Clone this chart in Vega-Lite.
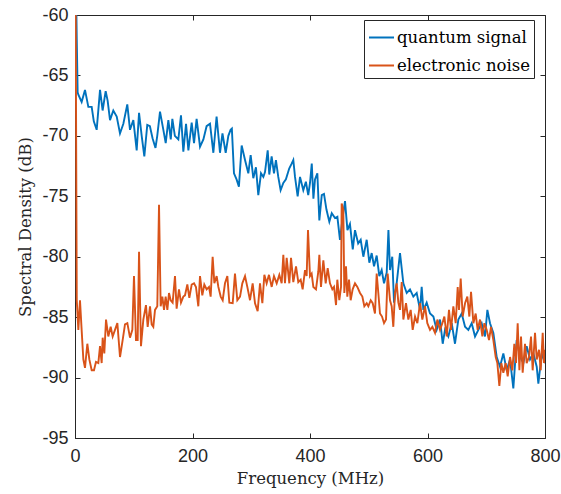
{
"$schema": "https://vega.github.io/schema/vega-lite/v6.json",
"autosize": "none",
"width": 470,
"height": 423,
"padding": {"left": 75, "top": 15, "right": 16, "bottom": 56},
"background": "white",
"config": {
  "view": {"stroke": "#262626", "strokeWidth": 1},
  "axis": {"grid": false, "domainColor": "#262626", "tickColor": "#262626", "labelColor": "#262626", "titleColor": "#262626", "labelFont": "Liberation Sans", "labelFontSize": 18, "titleFont": "DejaVu Serif", "titleFontSize": 16.5, "titleFontWeight": "normal", "tickSize": -5}
},
"datasets": {
"quantum": [
{"f":0,"db":-52},{"f":3,"db":-62},{"f":4.5,"db":-66.4},{"f":5.7,"db":-66.6},{"f":11.3,"db":-67.2},{"f":17,"db":-66.2},{"f":22.7,"db":-67.6},{"f":28.4,"db":-67.6},{"f":32,"db":-68.8},{"f":36.9,"db":-69.5},{"f":42.6,"db":-66.2},{"f":47,"db":-67.9},{"f":52.2,"db":-66.3},{"f":55.6,"db":-67.1},{"f":59.6,"db":-68.7},{"f":65.2,"db":-67.9},{"f":71,"db":-68.4},{"f":76.6,"db":-69.8},{"f":82.3,"db":-69.0},{"f":89,"db":-67.4},{"f":93.6,"db":-69.5},{"f":99.3,"db":-68.7},{"f":105,"db":-71.2},{"f":109,"db":-68.1},{"f":113.5,"db":-70.0},{"f":118,"db":-71.7},{"f":123,"db":-69.1},{"f":127.5,"db":-69.2},{"f":132,"db":-70.2},{"f":137,"db":-71.0},{"f":140,"db":-70.0},{"f":144.7,"db":-68.0},{"f":150.4,"db":-69.5},{"f":154.4,"db":-70.6},{"f":158.9,"db":-68.7},{"f":163,"db":-70.3},{"f":165.7,"db":-68.6},{"f":170,"db":-70.0},{"f":175.9,"db":-70.3},{"f":180.4,"db":-68.3},{"f":184.4,"db":-71.3},{"f":189,"db":-69.0},{"f":193,"db":-71.2},{"f":198.6,"db":-68.9},{"f":202.6,"db":-70.6},{"f":207,"db":-68.6},{"f":212.8,"db":-70.9},{"f":218.5,"db":-70.3},{"f":224,"db":-69.2},{"f":229.8,"db":-69.0},{"f":235.5,"db":-71.4},{"f":241,"db":-68.4},{"f":246.8,"db":-71.4},{"f":251,"db":-69.8},{"f":256.5,"db":-71.4},{"f":261,"db":-70.0},{"f":264.8,"db":-69.5},{"f":267,"db":-69.4},{"f":270.6,"db":-73.1},{"f":275,"db":-73.6},{"f":279,"db":-74.2},{"f":283.7,"db":-70.8},{"f":289.4,"db":-72.0},{"f":295,"db":-73.1},{"f":299,"db":-71.6},{"f":303.5,"db":-73.5},{"f":308,"db":-72.6},{"f":312,"db":-74.9},{"f":316.6,"db":-73.1},{"f":320.6,"db":-73.4},{"f":323.4,"db":-73.0},{"f":328,"db":-71.2},{"f":330.7,"db":-73.2},{"f":334.7,"db":-71.7},{"f":338.7,"db":-73.1},{"f":342,"db":-72.0},{"f":346,"db":-73.4},{"f":350,"db":-74.5},{"f":354.6,"db":-73.9},{"f":359,"db":-73.6},{"f":364.6,"db":-72.7},{"f":368.8,"db":-72.3},{"f":371.6,"db":-72.0},{"f":374.5,"db":-73.4},{"f":379,"db":-75.0},{"f":383,"db":-73.4},{"f":388.6,"db":-74.5},{"f":393,"db":-73.8},{"f":397,"db":-74.9},{"f":400,"db":-73.9},{"f":403,"db":-72.3},{"f":405.8,"db":-75.2},{"f":408.5,"db":-73.6},{"f":412.5,"db":-73.1},{"f":415.9,"db":-77.0},{"f":420,"db":-74.9},{"f":423.8,"db":-74.8},{"f":428,"db":-76.1},{"f":432.9,"db":-77.1},{"f":437,"db":-76.4},{"f":442.6,"db":-76.8},{"f":446.6,"db":-76.7},{"f":451,"db":-78.6},{"f":455.7,"db":-76.7},{"f":459.6,"db":-75.4},{"f":463.7,"db":-77.8},{"f":468,"db":-77.3},{"f":472.8,"db":-79.4},{"f":476.6,"db":-77.8},{"f":482,"db":-78.9},{"f":486.3,"db":-78.6},{"f":490.8,"db":-80.0},{"f":496.5,"db":-78.6},{"f":501,"db":-80.5},{"f":505,"db":-79.7},{"f":509,"db":-80.8},{"f":513.5,"db":-79.9},{"f":518,"db":-81.6},{"f":522,"db":-81.1},{"f":526,"db":-82.2},{"f":530.6,"db":-81.3},{"f":533.5,"db":-77.8},{"f":536.2,"db":-81.1},{"f":540,"db":-80.0},{"f":543,"db":-83.8},{"f":547.5,"db":-82.2},{"f":553.2,"db":-79.7},{"f":558.9,"db":-82.2},{"f":564.6,"db":-83.0},{"f":570.2,"db":-82.7},{"f":575.9,"db":-83.3},{"f":581.6,"db":-83.0},{"f":587.3,"db":-84.4},{"f":590.1,"db":-82.5},{"f":592.9,"db":-84.4},{"f":598.6,"db":-83.8},{"f":604.3,"db":-84.7},{"f":610,"db":-84.95},{"f":615.6,"db":-86.05},{"f":621.3,"db":-85.2},{"f":625.9,"db":-87.2},{"f":629.8,"db":-86.05},{"f":635.5,"db":-86.6},{"f":641.2,"db":-85.5},{"f":646.8,"db":-87.2},{"f":652.5,"db":-85.2},{"f":658.2,"db":-84.7},{"f":663.9,"db":-85.8},{"f":669.5,"db":-86.05},{"f":675.2,"db":-85.5},{"f":680.9,"db":-86.6},{"f":686.6,"db":-86.05},{"f":692.2,"db":-85.5},{"f":697.9,"db":-86.6},{"f":701.9,"db":-84.4},{"f":706.4,"db":-85.5},{"f":712.1,"db":-86.3},{"f":717.8,"db":-88.3},{"f":723.4,"db":-89.1},{"f":729.1,"db":-88.0},{"f":734.8,"db":-89.4},{"f":740.5,"db":-88.5},{"f":746.1,"db":-90.9},{"f":751.8,"db":-86.9},{"f":757.5,"db":-88.3},{"f":763.2,"db":-88.8},{"f":768.8,"db":-87.4},{"f":774.5,"db":-88.5},{"f":780.2,"db":-88.0},{"f":785.9,"db":-89.1},{"f":788.7,"db":-90.5},{"f":794.4,"db":-88.0},{"f":800,"db":-88.8}
],
"noise": [
{"f":0,"db":-45},{"f":3,"db":-83.6},{"f":5.7,"db":-86.05},{"f":8.5,"db":-83.6},{"f":11.3,"db":-86.05},{"f":14.2,"db":-88.5},{"f":17,"db":-89.2},{"f":21,"db":-87.2},{"f":24.4,"db":-88.5},{"f":28.4,"db":-89.4},{"f":32.3,"db":-89.4},{"f":35.7,"db":-88.7},{"f":39.7,"db":-88.8},{"f":42.6,"db":-87.4},{"f":45.4,"db":-88.8},{"f":47.1,"db":-86.7},{"f":49.9,"db":-88.0},{"f":52.8,"db":-85.2},{"f":56.7,"db":-86.6},{"f":60.7,"db":-85.8},{"f":64.1,"db":-86.6},{"f":68.1,"db":-86.05},{"f":72.1,"db":-85.5},{"f":76.6,"db":-88.3},{"f":81.1,"db":-86.9},{"f":85.1,"db":-85.6},{"f":89.1,"db":-85.5},{"f":93.6,"db":-86.7},{"f":97.6,"db":-86.05},{"f":100.4,"db":-81.6},{"f":103.8,"db":-86.9},{"f":106.7,"db":-86.9},{"f":109,"db":-79.6},{"f":112.3,"db":-87.4},{"f":116.3,"db":-85.2},{"f":120.8,"db":-84.0},{"f":123.7,"db":-85.8},{"f":127.7,"db":-84.1},{"f":130.5,"db":-85.6},{"f":133.3,"db":-85.8},{"f":136.2,"db":-84.4},{"f":140.1,"db":-84.1},{"f":143,"db":-75.7},{"f":145.8,"db":-84.1},{"f":148.7,"db":-83.3},{"f":151.5,"db":-84.4},{"f":154.3,"db":-83.3},{"f":157.2,"db":-84.4},{"f":160,"db":-83.0},{"f":162.8,"db":-83.6},{"f":166.2,"db":-83.8},{"f":170.2,"db":-81.6},{"f":173,"db":-84.3},{"f":177,"db":-82.7},{"f":180.4,"db":-83.8},{"f":184.4,"db":-83.3},{"f":187.2,"db":-83.2},{"f":191.2,"db":-82.3},{"f":194.6,"db":-83.4},{"f":198.6,"db":-82.3},{"f":202.6,"db":-82.2},{"f":205.9,"db":-82.5},{"f":209.9,"db":-84.1},{"f":212.8,"db":-81.6},{"f":216.7,"db":-83.2},{"f":220.1,"db":-82.3},{"f":224.1,"db":-82.7},{"f":228.1,"db":-82.5},{"f":230.9,"db":-83.3},{"f":234.3,"db":-80.0},{"f":237.2,"db":-82.2},{"f":241.1,"db":-81.6},{"f":244,"db":-82.5},{"f":248,"db":-83.3},{"f":251.4,"db":-83.6},{"f":255.3,"db":-82.2},{"f":259.3,"db":-81.6},{"f":262.7,"db":-83.8},{"f":268.4,"db":-83.85},{"f":272.3,"db":-81.4},{"f":276.3,"db":-83.6},{"f":280.9,"db":-83.3},{"f":284.8,"db":-82.2},{"f":289.4,"db":-81.6},{"f":293.3,"db":-82.5},{"f":297.9,"db":-83.6},{"f":302.4,"db":-82.2},{"f":306.4,"db":-83.85},{"f":310.9,"db":-84.5},{"f":314.9,"db":-82.2},{"f":318.9,"db":-83.85},{"f":322.3,"db":-81.5},{"f":326.2,"db":-82.2},{"f":330.2,"db":-81.5},{"f":334.8,"db":-82.5},{"f":338.7,"db":-81.6},{"f":343.3,"db":-82.2},{"f":347.8,"db":-81.5},{"f":351.8,"db":-82.2},{"f":354.6,"db":-79.85},{"f":357.4,"db":-82.2},{"f":360.3,"db":-80.1},{"f":364.8,"db":-82.2},{"f":367.7,"db":-80.1},{"f":371.6,"db":-82.1},{"f":376.2,"db":-80.8},{"f":380.1,"db":-82.1},{"f":384.1,"db":-81.9},{"f":387.5,"db":-82.7},{"f":391.5,"db":-81.1},{"f":394.3,"db":-81.6},{"f":396.6,"db":-77.8},{"f":400,"db":-81.6},{"f":402.8,"db":-81.4},{"f":405.7,"db":-82.5},{"f":410.2,"db":-82.7},{"f":414.2,"db":-81.2},{"f":415.9,"db":-79.85},{"f":418.7,"db":-82.5},{"f":422.7,"db":-80.3},{"f":426.7,"db":-82.2},{"f":430.1,"db":-80.95},{"f":434,"db":-82.2},{"f":438,"db":-82.7},{"f":440.9,"db":-82.5},{"f":444.3,"db":-84.0},{"f":446.5,"db":-81.9},{"f":449.9,"db":-83.6},{"f":452.8,"db":-82.5},{"f":453.9,"db":-75.6},{"f":456.7,"db":-76.1},{"f":458.4,"db":-83.0},{"f":461.3,"db":-80.8},{"f":463.5,"db":-83.3},{"f":466.4,"db":-81.9},{"f":469.2,"db":-83.6},{"f":472.6,"db":-82.7},{"f":476.6,"db":-82.2},{"f":480.6,"db":-82.5},{"f":485.1,"db":-83.0},{"f":489.1,"db":-83.3},{"f":492.5,"db":-84.1},{"f":496.5,"db":-83.85},{"f":499.3,"db":-84.1},{"f":503.3,"db":-83.6},{"f":506.7,"db":-83.85},{"f":510.6,"db":-84.7},{"f":513.5,"db":-81.4},{"f":516.3,"db":-83.0},{"f":519.1,"db":-84.7},{"f":522.6,"db":-84.95},{"f":526,"db":-85.5},{"f":529.4,"db":-85.2},{"f":532.2,"db":-81.4},{"f":536.2,"db":-83.6},{"f":539,"db":-84.1},{"f":541.8,"db":-85.8},{"f":544.7,"db":-83.0},{"f":547.5,"db":-82.2},{"f":550.4,"db":-83.8},{"f":553.2,"db":-84.4},{"f":556.1,"db":-82.1},{"f":558.9,"db":-85.2},{"f":563.4,"db":-83.85},{"f":567.4,"db":-85.2},{"f":571.4,"db":-84.4},{"f":574.8,"db":-86.05},{"f":578.8,"db":-84.95},{"f":582.7,"db":-85.5},{"f":587.3,"db":-83.85},{"f":591.2,"db":-85.2},{"f":595.8,"db":-84.1},{"f":599.7,"db":-85.5},{"f":604.3,"db":-86.05},{"f":608.3,"db":-85.8},{"f":612.8,"db":-86.3},{"f":616.8,"db":-85.2},{"f":621.3,"db":-86.05},{"f":625.3,"db":-85.5},{"f":628.7,"db":-84.95},{"f":632.7,"db":-86.6},{"f":636.6,"db":-84.4},{"f":640.0,"db":-86.05},{"f":644.0,"db":-84.1},{"f":648.0,"db":-85.5},{"f":651.4,"db":-82.5},{"f":653.6,"db":-84.4},{"f":656.5,"db":-81.8},{"f":659.9,"db":-84.95},{"f":663.9,"db":-83.85},{"f":667.8,"db":-83.3},{"f":671.2,"db":-84.95},{"f":674.1,"db":-82.9},{"f":678.1,"db":-85.5},{"f":682.0,"db":-84.7},{"f":685.4,"db":-86.05},{"f":689.4,"db":-85.2},{"f":693.4,"db":-86.6},{"f":696.8,"db":-85.5},{"f":700.7,"db":-86.05},{"f":704.7,"db":-86.9},{"f":708.1,"db":-85.8},{"f":712.1,"db":-86.9},{"f":716.1,"db":-88.3},{"f":718.9,"db":-88.8},{"f":722.3,"db":-90.7},{"f":725.7,"db":-88.8},{"f":729.1,"db":-89.6},{"f":733.1,"db":-88.8},{"f":736.5,"db":-89.9},{"f":740.5,"db":-88.3},{"f":744.4,"db":-89.4},{"f":747.8,"db":-87.2},{"f":750.7,"db":-88.8},{"f":753.5,"db":-85.5},{"f":756.4,"db":-89.4},{"f":759.2,"db":-86.6},{"f":762.0,"db":-89.6},{"f":766.0,"db":-87.2},{"f":768.8,"db":-88.8},{"f":772.8,"db":-88.3},{"f":776.2,"db":-86.6},{"f":779.0,"db":-89.4},{"f":783.0,"db":-86.3},{"f":785.9,"db":-88.5},{"f":789.8,"db":-87.7},{"f":792.7,"db":-89.4},{"f":796.1,"db":-86.3},{"f":798.3,"db":-88.8},{"f":800,"db":-87.7}
]
},
"layer": [
  {
    "layer": [
      {
        "data": {"name": "quantum"},
        "mark": {"type": "line", "strokeWidth": 1.9, "clip": true, "interpolate": "linear"},
        "encoding": {
          "x": {"field": "f", "type": "quantitative", "scale": {"domain": [0, 800], "nice": false, "zero": false}, "axis": {"values": [0, 200, 400, 600, 800], "title": "Frequency (MHz)", "labelPadding": 14, "labelFlush": false, "titleY": 40, "titleBaseline": "middle"}},
          "y": {"field": "db", "type": "quantitative", "scale": {"domain": [-95, -60], "nice": false, "zero": false}, "axis": {"values": [-95, -90, -85, -80, -75, -70, -65, -60], "title": "Spectral Density (dB)", "labelPadding": 12, "labelExpr": "'' + datum.value", "labelFlush": false, "titleX": -50, "titleBaseline": "middle"}},
          "color": {"datum": "quantum signal", "type": "nominal", "scale": {"domain": ["quantum signal", "electronic noise"], "range": ["#0072BD", "#D95319"]}, "legend": {"title": null, "orient": "none", "legendX": 289, "legendY": 5, "strokeColor": "#262626", "fillColor": "white", "padding": 4, "symbolType": "stroke", "symbolSize": 625, "symbolStrokeWidth": 2, "labelFont": "DejaVu Serif", "labelFontSize": 16.5, "labelColor": "#000000", "labelOffset": 2, "rowPadding": 6, "cornerRadius": 0}}
        }
      },
      {
        "data": {"name": "noise"},
        "mark": {"type": "line", "strokeWidth": 1.9, "clip": true, "interpolate": "linear"},
        "encoding": {
          "x": {"field": "f", "type": "quantitative"},
          "y": {"field": "db", "type": "quantitative"},
          "color": {"datum": "electronic noise", "type": "nominal"}
        }
      }
    ]
  },
  {
    "data": {"name": "noise"},
    "mark": {"type": "line", "strokeOpacity": 0, "clip": true},
    "encoding": {
      "x": {"field": "f", "type": "quantitative", "axis": {"orient": "top", "values": [0, 200, 400, 600, 800], "labels": false, "title": null, "domain": false}},
      "y": {"field": "db", "type": "quantitative", "axis": {"orient": "right", "values": [-95, -90, -85, -80, -75, -70, -65, -60], "labels": false, "title": null, "domain": false}}
    }
  }
],
"resolve": {"axis": {"x": "independent", "y": "independent"}}
}
